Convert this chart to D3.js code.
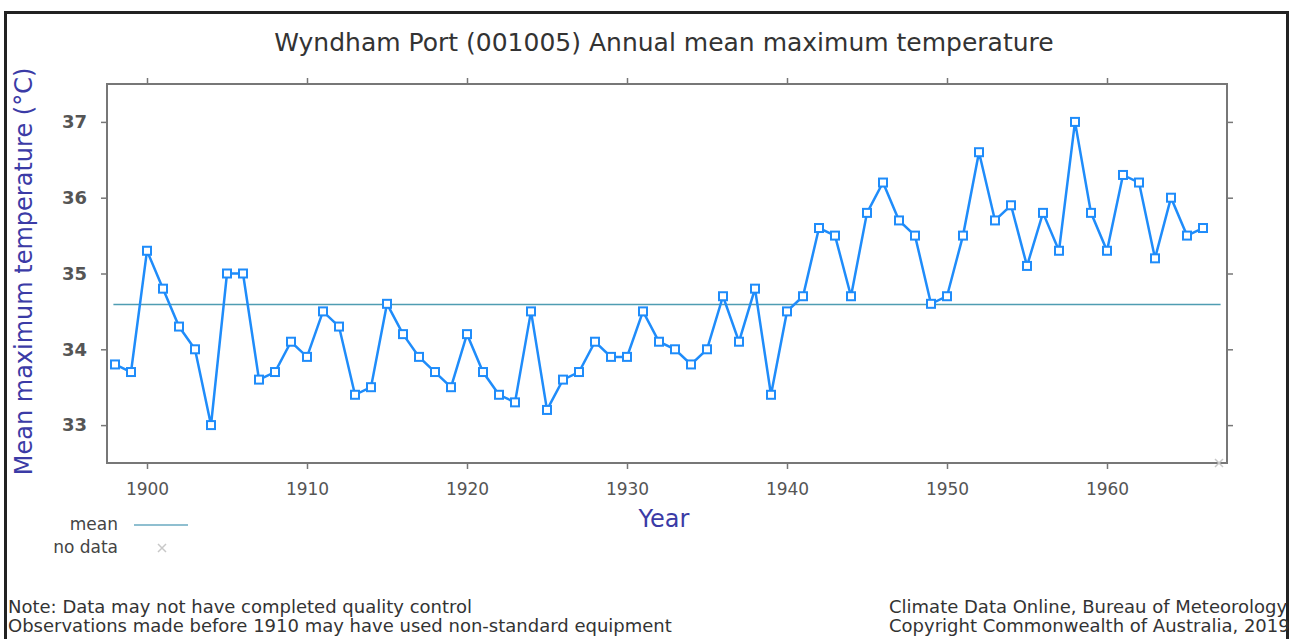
<!DOCTYPE html>
<html>
<head>
<meta charset="utf-8">
<script src="https://cdn.jsdelivr.net/npm/d3@7"></script>
<style>
  body { margin: 0; background: #fff; }
  svg { display: block; font-family: "DejaVu Sans", sans-serif; }
</style>
</head>
<body>
<svg id="chart" width="1295" height="639"></svg>
<script>
// annual mean maximum temperature, Wyndham Port (001005)
const years = d3.range(1898, 1967)
const temps = [
    33.8, 33.7, 35.3, 34.8, 34.3, 34.0, 33.0, 35.0, 35.0, 33.6,
    33.7, 34.1, 33.9, 34.5, 34.3, 33.4, 33.5, 34.6, 34.2, 33.9,
    33.7, 33.5, 34.2, 33.7, 33.4, 33.3, 34.5, 33.2, 33.6, 33.7,
    34.1, 33.9, 33.9, 34.5, 34.1, 34.0, 33.8, 34.0, 34.7, 34.1,
    34.8, 33.4, 34.5, 34.7, 35.6, 35.5, 34.7, 35.8, 36.2, 35.7,
    35.5, 34.6, 34.7, 35.5, 36.6, 35.7, 35.9, 35.1, 35.8, 35.3,
    37.0, 35.8, 35.3, 36.3, 36.2, 35.2, 36.0, 35.5, 35.6
]
const noDataYears = [1967]
const meanValue = 34.59
const meanSpan = [1897.9, 1967.1]
const xTicks = [1900, 1910, 1920, 1930, 1940, 1950, 1960]
const yTicks = [33, 34, 35, 36, 37]

const svg = d3.select('#chart')
const plot = { left: 107, right: 1227, top: 84, bottom: 463 }

const x = d3.scaleLinear().domain([1897.5, 1967.5]).range([plot.left, plot.right])
const y = d3.scaleLinear().domain([32.5, 37.5]).range([plot.bottom, plot.top])

// outer screenshot border
svg.append('path')
    .attr('d', 'M5.5,639 V12.5 H1287.5 V639')
    .attr('fill', 'none')
    .attr('stroke', '#222')
    .attr('stroke-width', 3)

svg.append('text')
    .attr('x', 664).attr('y', 51)
    .attr('text-anchor', 'middle')
    .attr('font-size', 25)
    .attr('fill', '#333')
    .text('Wyndham Port (001005) Annual mean maximum temperature')

// axes with ticks on all four sides
const axisStyle = g => {
    g.select('.domain').remove()
    g.selectAll('line').attr('stroke', '#777').attr('stroke-width', 1.5)
    g.selectAll('text').attr('fill', '#555').attr('font-size', 17).attr('font-family', '"DejaVu Sans", sans-serif')
}
svg.append('g')
    .attr('transform', `translate(0,${plot.bottom})`)
    .call(d3.axisBottom(x).tickValues(xTicks).tickFormat(d3.format('d')).tickSize(6).tickPadding(14))
    .call(axisStyle)
svg.append('g')
    .attr('transform', `translate(0,${plot.top})`)
    .call(d3.axisTop(x).tickValues(xTicks).tickFormat('').tickSize(6))
    .call(axisStyle)
svg.append('g')
    .attr('transform', `translate(${plot.left},0)`)
    .call(d3.axisLeft(y).tickValues(yTicks).tickFormat(d3.format('d')).tickSize(6).tickPadding(14))
    .call(axisStyle)
    .call(g => g.selectAll('text').attr('font-size', 18).attr('font-weight', 'bold'))
svg.append('g')
    .attr('transform', `translate(${plot.right},0)`)
    .call(d3.axisRight(y).tickValues(yTicks).tickFormat('').tickSize(6))
    .call(axisStyle)

svg.append('rect')
    .attr('x', plot.left).attr('y', plot.top)
    .attr('width', plot.right - plot.left).attr('height', plot.bottom - plot.top)
    .attr('fill', 'none')
    .attr('stroke', '#777')
    .attr('stroke-width', 2)

// mean line
svg.append('line')
    .attr('x1', x(meanSpan[0])).attr('x2', x(meanSpan[1]))
    .attr('y1', y(meanValue)).attr('y2', y(meanValue))
    .attr('stroke', '#4f9db2')
    .attr('stroke-width', 1.5)

const blue = '#1f8cfa'
const points = years.map((yr, i) => ({ year: yr, value: temps[i] }))

svg.append('path')
    .datum(points)
    .attr('d', d3.line().x(d => x(d.year)).y(d => y(d.value)))
    .attr('fill', 'none')
    .attr('stroke', blue)
    .attr('stroke-width', 2.5)

svg.selectAll('rect.marker')
    .data(points)
    .join('rect')
    .attr('class', 'marker')
    .attr('x', d => x(d.year) - 4)
    .attr('y', d => y(d.value) - 4)
    .attr('width', 8).attr('height', 8)
    .attr('fill', '#fff')
    .attr('stroke', blue)
    .attr('stroke-width', 2)

// no data crosses along the bottom
const cross = (g, cx, cy, r) => {
    g.append('path')
        .attr('d', `M${cx - r},${cy - r}L${cx + r},${cy + r}M${cx - r},${cy + r}L${cx + r},${cy - r}`)
        .attr('stroke', '#c8c8c8')
        .attr('stroke-width', 1.5)
}
noDataYears.forEach(yr => cross(svg, x(yr), plot.bottom, 4))

// axis titles
svg.append('text')
    .attr('transform', `translate(32,${(65 + 478) / 2}) rotate(-90)`)
    .attr('text-anchor', 'middle')
    .attr('font-size', 24)
    .attr('fill', '#3b3ba6')
    .text('Mean maximum temperature (°C)')

svg.append('text')
    .attr('x', 664).attr('y', 527)
    .attr('text-anchor', 'middle')
    .attr('font-size', 24)
    .attr('fill', '#3b3ba6')
    .text('Year')

// legend
const legend = svg.append('g').attr('font-size', 17).attr('fill', '#444')
legend.append('text').attr('x', 118).attr('y', 530).attr('text-anchor', 'end').text('mean')
legend.append('line')
    .attr('x1', 134).attr('x2', 188).attr('y1', 525).attr('y2', 525)
    .attr('stroke', '#6aaac0').attr('stroke-width', 1.5)
legend.append('text').attr('x', 118).attr('y', 553).attr('text-anchor', 'end').text('no data')
cross(legend, 162, 548, 4)

// footer notes
const foot = svg.append('g').attr('font-size', 18).attr('fill', '#333')
foot.append('text').attr('x', 8).attr('y', 613).text('Note: Data may not have completed quality control')
foot.append('text').attr('x', 8).attr('y', 632).text('Observations made before 1910 may have used non-standard equipment')
foot.append('text').attr('x', 889).attr('y', 613).text('Climate Data Online, Bureau of Meteorology')
foot.append('text').attr('x', 889).attr('y', 632).text('Copyright Commonwealth of Australia, 2019')
</script>
</body>
</html>
